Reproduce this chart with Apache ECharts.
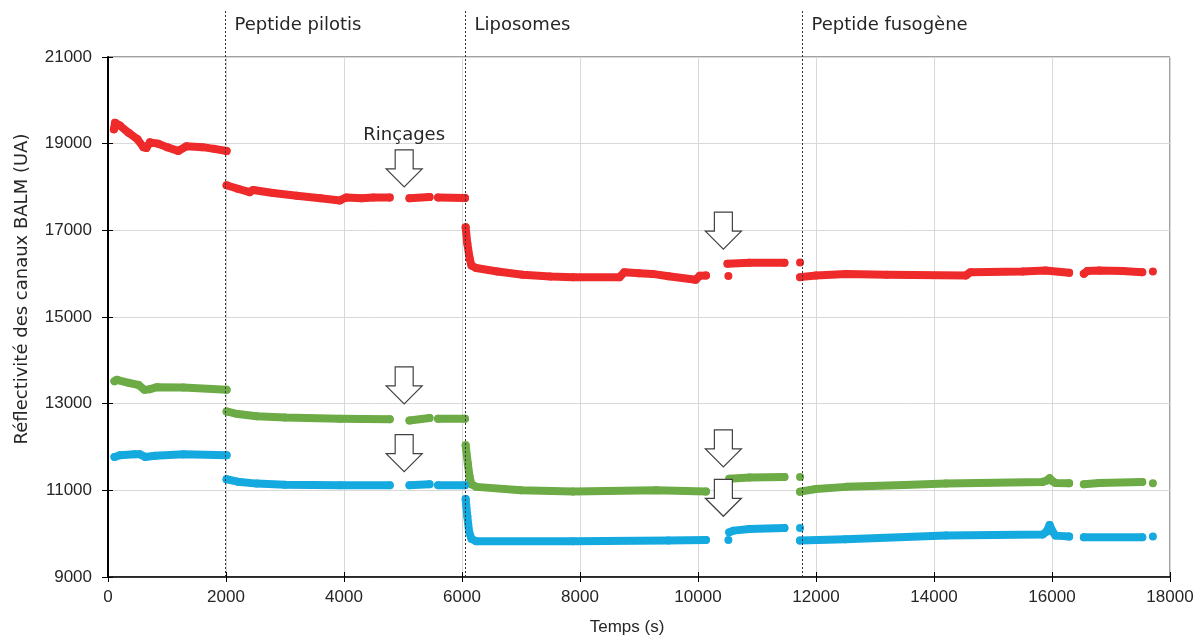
<!DOCTYPE html>
<html><head><meta charset="utf-8">
<script src="https://cdn.jsdelivr.net/npm/echarts@6/dist/echarts.min.js"></script>
<style>html,body{margin:0;padding:0;background:#fff}#c{width:1201px;height:641px}</style>
</head><body><div id="c"></div>
<script>
// Time (s) vs BALM reflectivity (UA); null = gap in acquisition
const redData = [
  [100,19330],[120,19480],[200,19420],[350,19250],[500,19100],[600,18920],[650,18900],[710,19030],[850,19000],[1000,18920],[1190,18830],[1330,18940],[1600,18920],[1800,18880],[2010,18830],
  null,
  [2010,18040],[2200,17960],[2400,17880],[2460,17930],[2800,17860],[3200,17800],[3600,17740],[3930,17690],[4040,17760],[4300,17740],[4500,17760],[4775,17760],
  null,
  [5110,17740],[5450,17770],
  null,
  [5595,17760],[6050,17745],
  null,
  [6062,17070],[6090,16700],[6130,16350],[6160,16190],[6240,16130],[6600,16050],[7030,15975],[7500,15935],[7880,15920],[8670,15920],[8750,16030],[9000,16010],[9230,15995],[9500,15940],[9960,15860],[10030,15950],[10135,15955],
  null,
  [10515,15945],
  null,
  [10500,16230],[10870,16250],[11465,16250],
  null,
  [11730,16260],
  null,
  [11730,15920],[12000,15960],[12510,15995],[13200,15975],[14540,15960],[14620,16035],[15500,16050],[15890,16075],[16290,16020],
  null,
  [16540,16000],[16600,16060],[16800,16075],[17200,16060],[17530,16035],
  null,
  [17710,16050]
];
const greenData = [
  [110,13520],[150,13550],[350,13480],[520,13430],[620,13320],[700,13330],[830,13380],[1280,13375],[2010,13320],
  null,
  [2010,12820],[2200,12760],[2520,12710],[3000,12680],[3930,12650],[4775,12640],
  null,
  [5110,12610],[5450,12670],
  null,
  [5595,12650],[6050,12650],
  null,
  [6062,12040],[6100,11600],[6130,11300],[6160,11140],[6240,11080],[7000,11000],[7880,10975],[9290,11000],[10135,10975],
  null,
  [10515,10975],
  null,
  [10530,11270],[10870,11295],[11465,11310],
  null,
  [11730,11310],
  null,
  [11730,10970],[12000,11030],[12510,11080],[13500,11125],[14200,11155],[15840,11195],[15920,11230],[15960,11280],[16010,11210],[16060,11170],[16290,11165],
  null,
  [16540,11140],[16800,11170],[17530,11195],
  null,
  [17710,11165]
];
const blueData = [
  [110,11770],[200,11810],[450,11830],[540,11830],[630,11770],[800,11800],[1280,11830],[2010,11810],
  null,
  [2010,11255],[2200,11200],[2520,11155],[3000,11130],[3930,11118],[4775,11118],
  null,
  [5110,11118],[5450,11140],
  null,
  [5595,11120],[6050,11118],
  null,
  [6062,10800],[6090,10400],[6120,10050],[6160,9880],[6240,9825],[7880,9825],[9500,9840],[10135,9856],
  null,
  [10515,9856],
  null,
  [10530,10030],[10600,10070],[10870,10108],[11465,10131],
  null,
  [11730,10131],
  null,
  [11730,9840],[12500,9870],[14200,9955],[15840,9978],[15910,10050],[15960,10200],[16010,10050],[16060,9955],[16290,9932],
  null,
  [16540,9917],[17530,9917],
  null,
  [17710,9932]
];
const phaseTimes = [1980, 6050, 11765];
const phaseLabels = ['Peptide pilotis', 'Liposomes', 'Peptide fusogène'];
const phaseLabelLevel = 21734;
const phaseLineTop = 22080;
const rinseArrows = [[5020,18430],[5020,13421],[5020,11860],[10430,16991],[10430,11966],[10430,10828]];
const rinseLabel = 'Rinçages';
const xTitle = 'Temps (s)';
const yTitle = 'Réflectivité des canaux BALM (UA)';

const FONT = 'Liberation Sans';
const WIDE = 'DejaVu Sans';
const TXT = '#262626';
const arrowPath = 'path://M9,0L27,0L27,19L36,19L18,37L0,19L9,19Z';

function dataSeries(name, data, color) {
  return {
    name, type: 'line', data, connectNulls: false, clip: false,
    showSymbol: true, showAllSymbol: true, symbol: 'circle', symbolSize: 8,
    itemStyle: { color },
    lineStyle: { color, width: 8, cap: 'round', join: 'round' },
    emphasis: { disabled: true }, silent: true
  };
}

const markPoints = rinseArrows.map((p, i) => ({
  coord: p, symbol: arrowPath, symbolSize: [36, 37],
  itemStyle: { color: '#fff', borderColor: '#404040', borderWidth: 1.2 },
  label: i === 0 ? { show: true, position: 'top', distance: 5, formatter: rinseLabel,
    fontFamily: WIDE, fontSize: 18, color: TXT } : { show: false }
}));

const chart = echarts.init(document.getElementById('c'), null, { renderer: 'canvas' });
chart.setOption({
  animation: false,
  backgroundColor: '#fff',
  grid: { left: 108, right: 31, top: 57, bottom: 61, show: true, borderColor: '#404040', borderWidth: 1, backgroundColor: 'transparent' },
  xAxis: [{
    type: 'value', min: 0, max: 18000, interval: 2000, position: 'bottom',
    name: xTitle, nameLocation: 'middle', nameGap: 42,
    nameTextStyle: { fontFamily: FONT, fontSize: 17, color: TXT, padding: [0, 24, 0, 0] },
    axisLine: { show: true, onZero: false, lineStyle: { color: '#000', width: 1.5 } },
    axisTick: { show: true, inside: false, length: 5, lineStyle: { color: '#000' } },
    axisLabel: { fontFamily: FONT, fontSize: 17, color: TXT, margin: 12, formatter: v => String(v) },
    splitLine: { show: true, lineStyle: { color: '#d9d9d9', width: 1 } }
  }, {
    type: 'value', min: 0, max: 18000, interval: 2000, position: 'bottom',
    axisLine: { show: false, onZero: false },
    axisTick: { show: true, inside: true, length: 5, lineStyle: { color: '#000' } },
    axisLabel: { show: false }, splitLine: { show: false }
  }],
  yAxis: [{
    type: 'value', min: 9000, max: 21000, interval: 2000, position: 'left',
    name: yTitle, nameLocation: 'middle', nameGap: 77,
    nameTextStyle: { fontFamily: WIDE, fontSize: 18, color: TXT, padding: [0, 0, 0, 56] },
    axisLine: { show: true, onZero: false, lineStyle: { color: '#000', width: 2 } },
    axisTick: { show: true, inside: false, length: 6, lineStyle: { color: '#000' } },
    axisLabel: { fontFamily: FONT, fontSize: 17, color: TXT, margin: 16, formatter: v => String(v) },
    splitLine: { show: true, lineStyle: { color: '#d9d9d9', width: 1 } }
  }, {
    type: 'value', min: 9000, max: 21000, interval: 2000, position: 'left',
    axisLine: { show: false, onZero: false },
    axisTick: { show: true, inside: true, length: 5, lineStyle: { color: '#000' } },
    axisLabel: { show: false }, splitLine: { show: false }
  }],
  series: [
    dataSeries('Canal rouge', redData, '#ee2a2b'),
    dataSeries('Canal vert', greenData, '#6cab45'),
    dataSeries('Canal bleu', blueData, '#15aadf'),
    {
      name: 'annotations', type: 'line', data: [], clip: false, silent: true,
      markPoint: { silent: true, data: markPoints }
    }
  ]
});

// phase separators and labels, positioned through the axes' own scales
const gfx = [];
phaseTimes.forEach((t, i) => {
  const p0 = chart.convertToPixel({ gridIndex: 0 }, [t, 9000]);
  const p1 = chart.convertToPixel({ gridIndex: 0 }, [t, phaseLineTop]);
  const pl = chart.convertToPixel({ gridIndex: 0 }, [t, phaseLabelLevel]);
  const x = Math.round(p0[0]) + 0.5;
  gfx.push({ type: 'line', silent: true, z: 10,
    shape: { x1: x, y1: p0[1], x2: x, y2: p1[1] },
    style: { stroke: '#333', lineWidth: 1, lineDash: [2, 2] } });
  gfx.push({ type: 'text', silent: true, z: 10, x: x + 9, y: pl[1],
    style: { text: phaseLabels[i], font: '18px "' + WIDE + '"', fill: TXT, verticalAlign: 'middle', align: 'left' } });
});
chart.setOption({ graphic: gfx });
</script></body></html>
